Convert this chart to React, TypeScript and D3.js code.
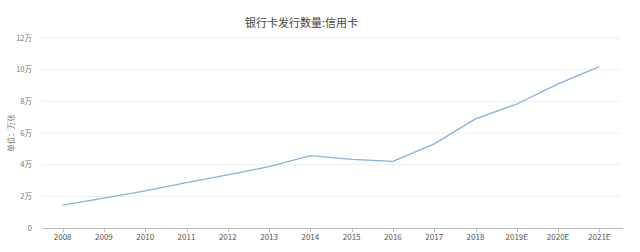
import React from "react";
import * as d3 from "d3";

const categories = ["2008","2009","2010","2011","2012","2013","2014","2015","2016","2017","2018","2019E","2020E","2021E"];
const values = [1.45,1.88,2.34,2.86,3.35,3.87,4.57,4.34,4.21,5.31,6.89,7.83,9.1,10.19];
const yTicks = [0,2,4,6,8,10,12];
const yTickLabels = ["0","2万","4万","6万","8万","10万","12万"];
const title = "银行卡发行数量:信用卡";
const yTitle = "单位：万张";

const W = 640, H = 252;
const left = 42, right = 620, top = 38, bottom = 228;
const font = "'Noto Sans CJK SC', 'Noto Sans', sans-serif";

export default function App() {
  const x = d3.scaleBand<string>().domain(categories).range([left, right]);
  const y = d3.scaleLinear().domain([0, 12]).range([bottom, top]);
  const cx = (c: string) => (x(c) as number) + x.bandwidth() / 2;
  const line = d3.line<number>().x((_, i) => cx(categories[i])).y(d => y(d));
  return (
    <svg width={W} height={H} style={{ position: "absolute", left: 0, top: 0, background: "#fff" }}>
      <text x={301.5} y={27} textAnchor="middle" fontSize={11} fill="#444" fontFamily={font}>{title}</text>
      {yTicks.map((t, i) => (
        <g key={t}>
          {t !== 0 && <line x1={left} x2={right} y1={y(t)} y2={y(t)} stroke="#eeeeee" strokeWidth={1} />}
          <text x={32} y={y(t)} dy="0.35em" textAnchor="end" fontSize={7.5} fill="#777" fontFamily={font}>{yTickLabels[i]}</text>
        </g>
      ))}
      <text transform={`translate(11,${(top + bottom) / 2 + 0}) rotate(-90)`} textAnchor="middle" dy="0.35em" fontSize={7.5} fill="#777" fontFamily={font}>{yTitle}</text>
      <line x1={left} x2={right + 3} y1={bottom + 0.5} y2={bottom + 0.5} stroke="#bbb" strokeWidth={1} />
      {categories.map(c => (
        <g key={c}>
          <line x1={Math.round(cx(c)) + 0.5} x2={Math.round(cx(c)) + 0.5} y1={bottom} y2={bottom + 4} stroke="#bbb" />
          <text x={cx(c)} y={237} dy="0.35em" textAnchor="middle" fontSize={8} fill="#555" fontFamily={font}>{c}</text>
        </g>
      ))}
      <path d={line(values) as string} fill="none" stroke="#82b2e0" strokeWidth={1.3} />
    </svg>
  );
}
